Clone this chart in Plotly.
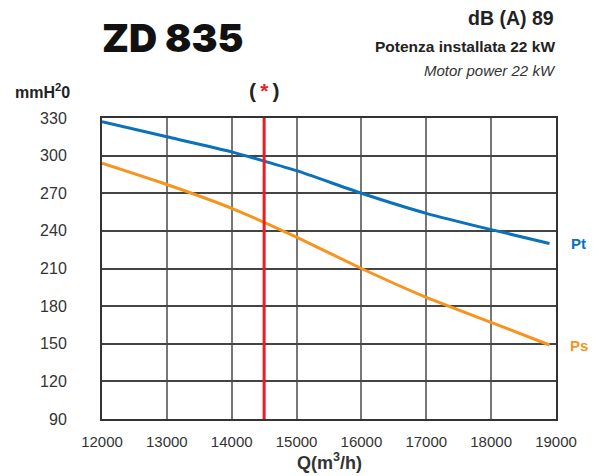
import plotly.graph_objects as go

# Data
q = [12000, 13000, 14000, 15000, 16000, 17000, 18000, 18900]
pt = [327, 315, 303, 288, 270, 254, 241, 230]
ps = [294, 277, 258, 235, 210, 187, 167, 149]
duty_q = 14500
x_ticks = [12000, 13000, 14000, 15000, 16000, 17000, 18000, 19000]
y_ticks = [90, 120, 150, 180, 210, 240, 270, 300, 330]

BLUE = "#0A72BA"
ORANGE = "#F7941D"
RED = "#ED1C24"
TXT = "#333333"
FONT = "Liberation Sans, Arial, sans-serif"

fig = go.Figure()
fig.add_trace(go.Scatter(x=q, y=pt, mode="lines", line=dict(color=BLUE, width=3, shape="spline", smoothing=0.4),
                         name="Pt", showlegend=False, hoverinfo="skip"))
fig.add_trace(go.Scatter(x=q, y=ps, mode="lines", line=dict(color=ORANGE, width=3, shape="spline", smoothing=0.4),
                         name="Ps", showlegend=False, hoverinfo="skip"))
fig.add_trace(go.Scatter(x=[duty_q, duty_q], y=[y_ticks[0], y_ticks[-1]], mode="lines",
                         line=dict(color=RED, width=3), showlegend=False, hoverinfo="skip"))

fig.update_xaxes(range=[x_ticks[0], x_ticks[-1]], tickvals=x_ticks, ticktext=[str(v) for v in x_ticks],
                 showgrid=True, gridcolor="#777777", gridwidth=1.5,
                 showline=True, mirror=True, linecolor="#333333", linewidth=2,
                 ticks="", ticklabelstandoff=8, tickfont=dict(family=FONT, size=15, color=TXT),
                 zeroline=False)
fig.update_yaxes(range=[y_ticks[0], y_ticks[-1]], tickvals=y_ticks, ticktext=[str(v) for v in y_ticks],
                 showgrid=True, gridcolor="#444444", gridwidth=1.5,
                 showline=True, mirror=True, linecolor="#333333", linewidth=2,
                 ticks="", ticklabelstandoff=30, tickfont=dict(family=FONT, size=16, color=TXT),
                 zeroline=False)

ann = [
    dict(text="ZD 835", x=-0.004, y=1.267, xanchor="left", yanchor="middle",
         font=dict(family="Inter, DejaVu Sans, sans-serif", size=39, weight=900, color="#111111")),
    dict(text="<b>dB (A) 89</b>", x=1.0, y=1.333, xanchor="right", yanchor="middle",
         font=dict(family=FONT, size=19.5, color="#222222")),
    dict(text="<b>Potenza installata 22 kW</b>", x=1.003, y=1.238, xanchor="right", yanchor="middle",
         font=dict(family=FONT, size=15.5, color="#222222")),
    dict(text="<i>Motor power 22 kW</i>", x=1.004, y=1.157, xanchor="right", yanchor="middle",
         font=dict(family=FONT, size=15, color="#333333")),
    dict(text="<b>mmH<sup>2</sup>0</b>", x=-0.197, y=1.091, xanchor="left", yanchor="middle",
         font=dict(family=FONT, size=16, color="#222222")),
    dict(text="<b>Q(m<sup>3</sup>/h)</b>", x=0.5, y=-0.141, xanchor="center", yanchor="middle",
         font=dict(family=FONT, size=18, color=TXT)),
    dict(text="<b>Pt</b>", x=1.05, y=(229.8 - 90) / 240, xanchor="center", yanchor="middle",
         font=dict(family=FONT, size=15, color=BLUE)),
    dict(text="<b>Ps</b>", x=1.05, y=(148.4 - 90) / 240, xanchor="center", yanchor="middle",
         font=dict(family=FONT, size=15, color=ORANGE)),
]
for a in ann:
    a.update(xref="paper", yref="paper", showarrow=False)
fig.update_layout(annotations=ann)
fig.add_annotation(text="<b>(&#8201;<span style='color:%s'>*</span>&#8201;)</b>" % RED, x=duty_q, xref="x",
                   y=1.091, yref="paper", showarrow=False, xanchor="center", yanchor="middle",
                   font=dict(family=FONT, size=21, color="#222222"))

fig.update_layout(width=599, height=476, margin=dict(l=102, r=43, t=118, b=57),
                  plot_bgcolor="white", paper_bgcolor="white", showlegend=False)

fig.write_html("out.html", config={"displayModeBar": False},
               post_script="document.body.style.margin='0';")
